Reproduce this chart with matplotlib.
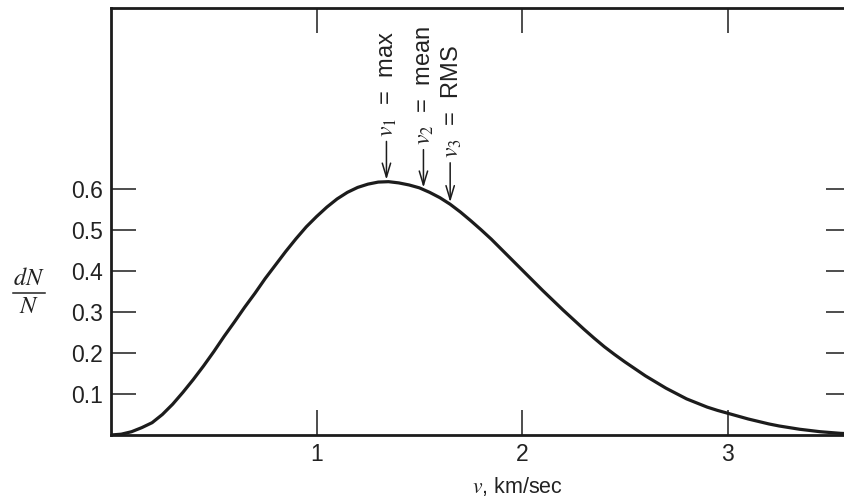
import numpy as np
import matplotlib.pyplot as plt
from matplotlib.lines import Line2D

plt.rcParams['font.family'] = ['Liberation Sans', 'DejaVu Sans']
plt.rcParams['mathtext.fontset'] = 'stix'

# 速度分布 (km/sec) 与 dN/N
speed = [0.0, 0.05, 0.1, 0.15, 0.2, 0.25, 0.3, 0.35, 0.4, 0.45,
         0.5, 0.55, 0.6, 0.65, 0.7, 0.75, 0.8, 0.85, 0.9, 0.95,
         1.0, 1.05, 1.1, 1.15, 1.2, 1.25, 1.3, 1.35, 1.4, 1.45,
         1.5, 1.55, 1.6, 1.65, 1.7, 1.75, 1.8, 1.85, 1.9, 1.95,
         2.0, 2.05, 2.1, 2.15, 2.2, 2.25, 2.3, 2.35, 2.4, 2.45,
         2.5, 2.55, 2.6, 2.65, 2.7, 2.75, 2.8, 2.85, 2.9, 2.95,
         3.0, 3.05, 3.1, 3.15, 3.2, 3.25, 3.3, 3.35, 3.4, 3.45,
         3.5, 3.55, 3.6]
frac = [0.000, 0.002, 0.008, 0.018, 0.030, 0.050, 0.075, 0.104, 0.135, 0.168,
        0.203, 0.240, 0.275, 0.311, 0.345, 0.381, 0.414, 0.447, 0.478, 0.507,
        0.532, 0.555, 0.575, 0.591, 0.603, 0.611, 0.616, 0.617, 0.614, 0.609,
        0.602, 0.591, 0.578, 0.562, 0.543, 0.522, 0.500, 0.477, 0.452, 0.427,
        0.402, 0.377, 0.352, 0.328, 0.304, 0.281, 0.258, 0.236, 0.215, 0.196,
        0.178, 0.161, 0.144, 0.129, 0.114, 0.101, 0.088, 0.078, 0.068, 0.060,
        0.053, 0.046, 0.039, 0.033, 0.027, 0.022, 0.018, 0.014, 0.011, 0.008,
        0.006, 0.004, 0.003]

# 三个特征速度
mark_v = [1.34, 1.52, 1.65]
mark_labels = [r'$v_1$  =  max', r'$v_2$  =  mean', r'$v_3$  =  RMS']
mark_top = [0.715, 0.695, 0.663]

y_ticks = [0.1, 0.2, 0.3, 0.4, 0.5, 0.6]
x_ticks = [1, 2, 3]

fig = plt.figure(figsize=(8.45, 5), dpi=100)
ax = fig.add_axes([111 / 845, 65 / 500, 740 / 845, 427 / 500])

ink = '#1c1c1c'
txt = '#222222'
ax.plot(speed, frac, color=ink, lw=2.3, solid_capstyle='round',
        solid_joinstyle='round')

for v, lab, top in zip(mark_v, mark_labels, mark_top):
    tip = np.interp(v, speed, frac) + 0.005
    ax.annotate('', xy=(v, tip), xytext=(v, top),
                arrowprops=dict(arrowstyle='->,head_length=1.0,head_width=0.3',
                                color=ink, lw=1.1, shrinkA=0, shrinkB=0))
    ax.text(v + 0.008, top + 0.012, lab, rotation=90, ha='center', va='bottom',
            fontsize=17, color=txt)

ax.set_xlim(0, 3.6)
ax.set_ylim(0, 1.04)
ax.set_xticks(x_ticks)
ax.set_xticklabels([str(t) for t in x_ticks])
ax.set_yticks(y_ticks)
ax.set_yticklabels([f'{t:.1f}' for t in y_ticks])
ax.tick_params(axis='both', direction='in', length=18, width=1.1, color=ink,
               labelsize=16.5, labelcolor=txt, pad=6,
               top=True, right=True)
for s in ax.spines.values():
    s.set_linewidth(2.0)
    s.set_color(ink)

# 轴标题
fig.text(517 / 845, 1 - 487 / 500, r'$v$, km/sec', ha='center', va='center',
         fontsize=15.5, color=txt)
fig.text(29 / 845, 1 - 279 / 500, r'$dN$', ha='center', va='center',
         fontsize=17.5, color=txt)
fig.text(29 / 845, 1 - 307 / 500, r'$N$', ha='center', va='center',
         fontsize=17.5, color=txt)
fig.add_artist(Line2D([13 / 845, 45 / 845], [1 - 293 / 500, 1 - 293 / 500],
                      transform=fig.transFigure, color=txt, lw=1.1))

fig.savefig('out.png', dpi=100)
